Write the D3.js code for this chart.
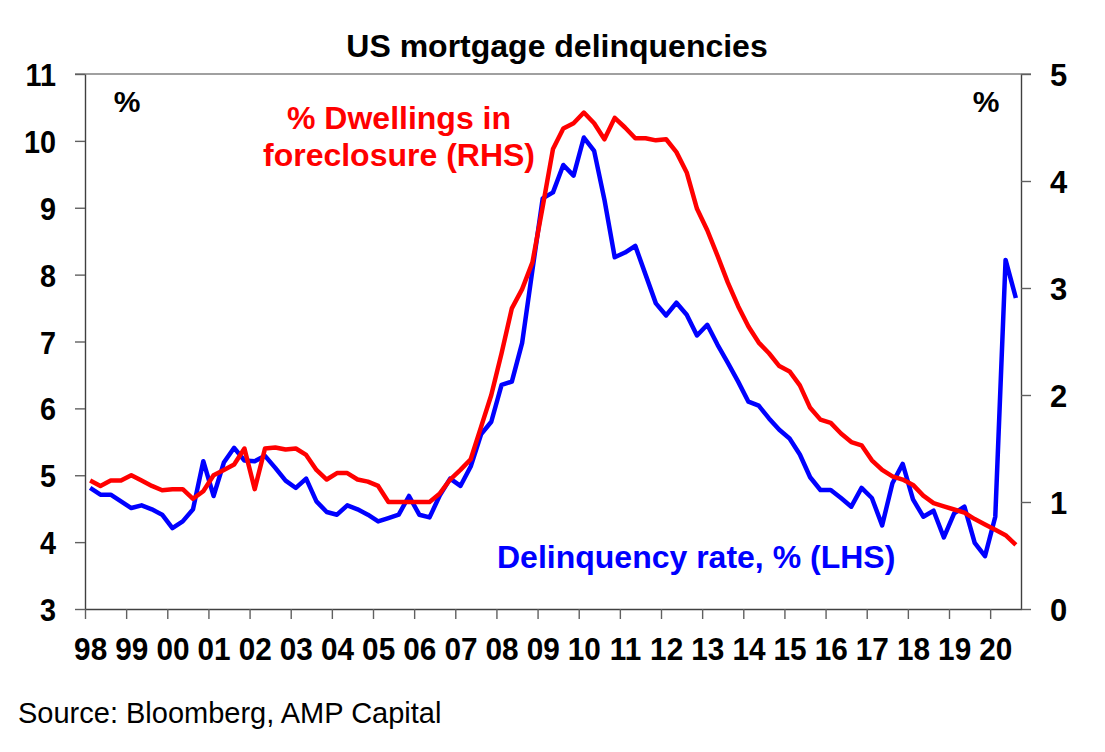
<!DOCTYPE html>
<html>
<head>
<meta charset="utf-8">
<script src="https://cdn.jsdelivr.net/npm/d3@7"></script>
<style>
  body { margin: 0; background: #fff; }
  svg { display: block; font-family: "Liberation Sans", Arial, sans-serif; }
</style>
</head>
<body>
<script>
// quarterly, 1998 Q1 .. 2020 Q3
const firstYear = 1998;

// Delinquency rate, % (LHS)
const delinquency = [
  4.81, 4.71, 4.71, 4.61, 4.51, 4.55, 4.49, 4.41, 4.21, 4.31,
  4.49, 5.21, 4.69, 5.19, 5.41, 5.22, 5.21, 5.29, 5.11, 4.92,
  4.81, 4.95, 4.61, 4.45, 4.41, 4.55, 4.49, 4.41, 4.31, 4.36,
  4.41, 4.69, 4.41, 4.37, 4.70, 4.95, 4.84, 5.13, 5.61, 5.80,
  6.35, 6.40, 6.98, 8.07, 9.14, 9.23, 9.64, 9.48, 10.05, 9.85,
  9.12, 8.26, 8.33, 8.43, 8.00, 7.57, 7.39, 7.58, 7.40, 7.09,
  7.25, 6.95, 6.68, 6.40, 6.10, 6.04, 5.85, 5.68, 5.55, 5.31,
  4.97, 4.78, 4.78, 4.66, 4.53, 4.81, 4.66, 4.25, 4.88, 5.17,
  4.64, 4.38, 4.47, 4.07, 4.43, 4.53, 3.99, 3.79, 4.38, 8.22,
  7.65
];

// % Dwellings in foreclosure (RHS)
const foreclosure = [
  1.20, 1.15, 1.20, 1.20, 1.25, 1.20, 1.15, 1.11, 1.12, 1.12,
  1.03, 1.10, 1.25, 1.30, 1.35, 1.50, 1.12, 1.50, 1.51, 1.49,
  1.50, 1.44, 1.30, 1.21, 1.27, 1.27, 1.21, 1.19, 1.15, 1.00,
  1.00, 1.00, 1.00, 1.00, 1.08, 1.21, 1.30, 1.40, 1.70, 2.00,
  2.39, 2.81, 2.99, 3.24, 3.76, 4.30, 4.49, 4.54, 4.64, 4.54,
  4.39, 4.59, 4.50, 4.40, 4.40, 4.38, 4.39, 4.27, 4.08, 3.74,
  3.54, 3.30, 3.05, 2.83, 2.64, 2.49, 2.39, 2.27, 2.22, 2.09,
  1.88, 1.77, 1.74, 1.64, 1.56, 1.53, 1.39, 1.30, 1.24, 1.21,
  1.16, 1.06, 0.99, 0.96, 0.93, 0.90, 0.84, 0.79, 0.74, 0.69,
  0.60
];

const yearTicks = [1998, 1999, 2000, 2001, 2002, 2003, 2004, 2005, 2006, 2007, 2008,
  2009, 2010, 2011, 2012, 2013, 2014, 2015, 2016, 2017, 2018, 2019, 2020];
const yearLabels = ['98', '99', '00', '01', '02', '03', '04', '05', '06', '07', '08',
  '09', '10', '11', '12', '13', '14', '15', '16', '17', '18', '19', '20'];
const leftTicks = [3, 4, 5, 6, 7, 8, 9, 10, 11];
const rightTicks = [0, 1, 2, 3, 4, 5];

const W = 1105, H = 752;
const plot = { left: 85, right: 1021, top: 74, bottom: 609 };

let svg = d3.select('body')
  .append('svg')
  .attr('width', W)
  .attr('height', H);

const x = d3.scaleLinear().domain([firstYear, 2020.75]).range([plot.left, plot.right]);
const yL = d3.scaleLinear().domain([3, 11]).range([plot.bottom, plot.top]);
const yR = d3.scaleLinear().domain([0, 5]).range([plot.bottom, plot.top]);

// centre of quarter i
const qTime = (i) => firstYear + i / 4 + 0.125;
const labelShift = x(firstYear + 0.125) - x(firstYear);

const styleAxis = (g) => {
  g.select('.domain').attr('stroke', '#404040').attr('stroke-width', 1.4);
  g.selectAll('.tick line').attr('stroke', '#606060').attr('stroke-width', 1.4);
  g.selectAll('.tick text')
    .attr('fill', '#000')
    .style('font-weight', 'bold')
    .style('font-family', '"Liberation Sans", Arial, sans-serif');
}

// top border
svg.append('line')
  .attr('x1', plot.left - 10).attr('x2', plot.right + 10)
  .attr('y1', plot.top).attr('y2', plot.top)
  .attr('stroke', '#808080').attr('stroke-width', 1.4);

// left axis
svg.append('g')
  .attr('transform', `translate(${plot.left}, 0)`)
  .call(d3.axisLeft(yL).tickValues(leftTicks).tickSize(10).tickSizeOuter(0).tickPadding(20)
    .tickFormat(d3.format('d')))
  .call(styleAxis)
  .call((g) => g.selectAll('.tick text')
    .style('font-size', '32px').attr('dy', '0.36em')
    .attr('transform', 'translate(-20, 0) scale(0.9, 1) translate(20, 0)'));

// right axis
svg.append('g')
  .attr('transform', `translate(${plot.right}, 0)`)
  .call(d3.axisRight(yR).tickValues(rightTicks).tickSize(10).tickSizeOuter(0).tickPadding(19)
    .tickFormat(d3.format('d')))
  .call(styleAxis)
  .call((g) => g.selectAll('.tick text').style('font-size', '31px').attr('dy', '0.36em'));

// bottom axis: ticks at year starts, labels on the first quarter
svg.append('g')
  .attr('transform', `translate(0, ${plot.bottom})`)
  .call(d3.axisBottom(x).tickValues(yearTicks).tickSize(10).tickSizeOuter(0)
    .tickFormat((d, i) => yearLabels[i]))
  .call(styleAxis)
  .call((g) => g.selectAll('.tick text')
    .style('font-size', '32px')
    .attr('y', 51).attr('dy', 0)
    .attr('transform', `translate(${labelShift}, 0) scale(0.93, 1)`));

// series
const lineL = d3.line().x((d, i) => x(qTime(i))).y((d) => yL(d));
const lineR = d3.line().x((d, i) => x(qTime(i))).y((d) => yR(d));

svg.append('path')
  .datum(delinquency)
  .attr('d', lineL)
  .attr('fill', 'none')
  .attr('stroke', '#0000ff')
  .attr('stroke-width', 4.5)
  .attr('stroke-linejoin', 'round');

svg.append('path')
  .datum(foreclosure)
  .attr('d', lineR)
  .attr('fill', 'none')
  .attr('stroke', '#ff0000')
  .attr('stroke-width', 4.5)
  .attr('stroke-linejoin', 'round');

// texts
const txt = (s, tx, ty, opts) => {
  svg.append('text')
    .attr('x', tx).attr('y', ty)
    .attr('text-anchor', opts.anchor || 'start')
    .attr('fill', opts.fill || '#000')
    .style('font-size', opts.size + 'px')
    .style('font-weight', opts.bold === false ? 'normal' : 'bold')
    .text(s);
}

txt('US mortgage delinquencies', 557, 57, { anchor: 'middle', size: 32 });
txt('%', 127, 112, { anchor: 'middle', size: 30 });
txt('%', 986, 112, { anchor: 'middle', size: 30 });
txt('% Dwellings in', 399, 129, { anchor: 'middle', size: 32, fill: '#ff0000' });
txt('foreclosure (RHS)', 399, 166, { anchor: 'middle', size: 32, fill: '#ff0000' });
txt('Delinquency rate, % (LHS)', 497, 568, { size: 32, fill: '#0000ff' });
txt('Source: Bloomberg, AMP Capital', 18, 723, { size: 29, bold: false });
</script>
</body>
</html>
